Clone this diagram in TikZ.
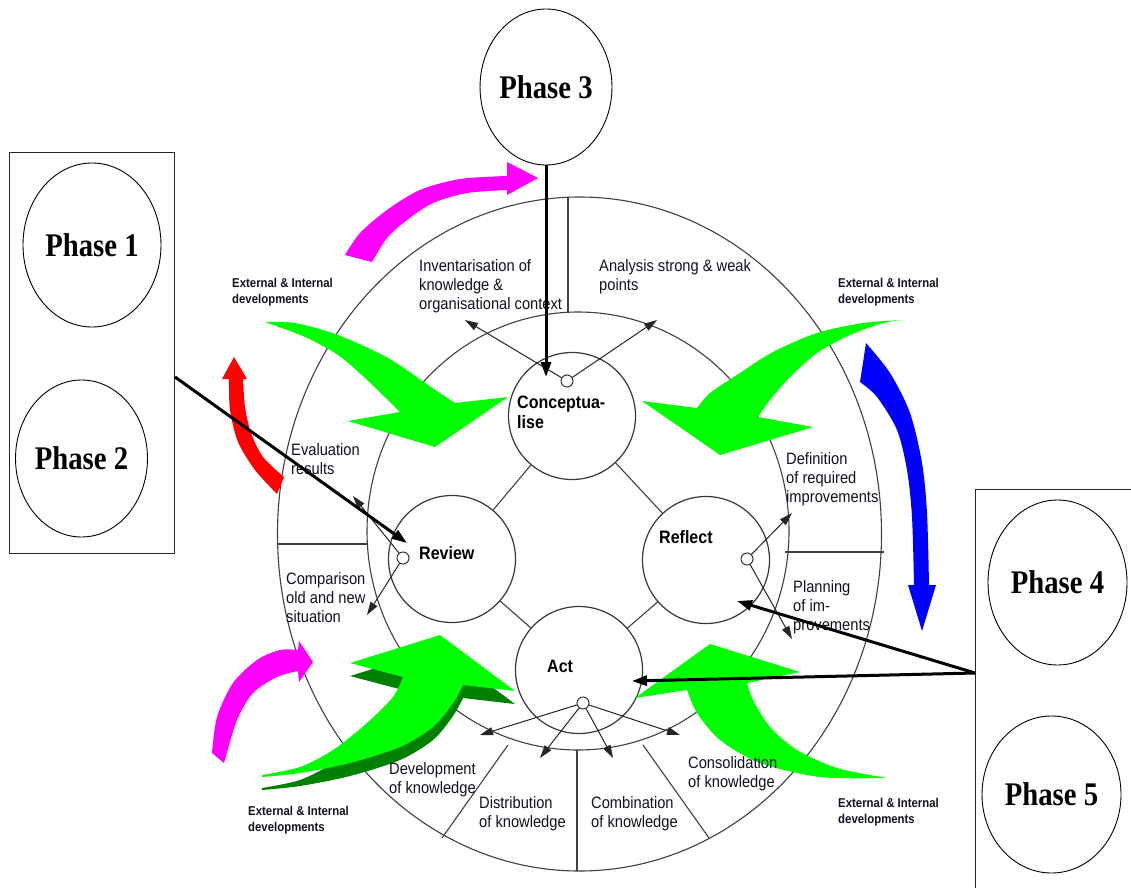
\documentclass[tikz,border=0pt]{standalone}
\usepackage{fontspec}
\setmainfont{Liberation Sans}
\newfontfamily\labfont[FakeStretch=0.89]{Liberation Sans}
\newfontfamily\phasefont[FakeStretch=0.87]{Liberation Serif}
\usetikzlibrary{arrows.meta,shapes.geometric}

\definecolor{swoosh}{RGB}{0,255,0}
\definecolor{swooshdark}{RGB}{0,128,0}
\definecolor{cycmagenta}{RGB}{255,0,255}
\definecolor{cycred}{RGB}{255,0,0}
\definecolor{cycblue}{RGB}{0,0,255}
\definecolor{inktext}{RGB}{18,18,30}

% multi-line labels are anchored at the baseline of their last line
\tikzset{
  ring/.style={draw=black!75, line width=1.1pt},
  stage/.style={circle, draw=black!78, line width=1.2pt, minimum size=127pt, inner sep=0pt},
  port/.style={circle, draw=black!80, fill=white, line width=1pt, minimum size=12pt, inner sep=0pt},
  flow/.style={draw=black!85, line width=1pt, -{Triangle[length=13pt,width=8pt]}},
  pointer/.style={draw=black, line width=3pt, -{Triangle[length=15pt,width=10pt]}},
  phase/.style={ellipse, draw=black, line width=0.9pt, inner sep=0pt,
    font=\phasefont\bfseries\fontsize{33}{36}\selectfont},
  framebox/.style={rectangle, draw=black!85, line width=0.9pt, inner sep=0pt, anchor=north west},
  lab/.style={anchor=base west, align=left, inner sep=0pt, text=inktext,
    font=\labfont\fontsize{16.5}{18.8}\selectfont},
  stagelab/.style={anchor=base west, align=left, inner sep=0pt, text=black,
    font=\labfont\bfseries\fontsize{18}{20}\selectfont},
  extlab/.style={anchor=base west, align=left, inner sep=0pt, text=inktext,
    font=\labfont\bfseries\fontsize{12.8}{16}\selectfont},
}

\begin{document}
\begin{tikzpicture}[x=1pt,y=-1pt]
\fill[white] (0,0) rectangle (1131,888);
\useasboundingbox (0,0) rectangle (1131,888);

% --- rings and sector dividers ---
\draw[ring] (579.5,534) ellipse [x radius=302, y radius=337];
\draw[ring] (578,531) ellipse [x radius=211, y radius=219];
\draw[ring] (568,197) -- (568,312);
\draw[ring] (277,544) -- (367,544);
\draw[ring] (785,552) -- (884,552);
\draw[ring] (577,750) -- (577,871);
\draw[ring] (508,745) -- (442,838);
\draw[ring] (643,745) -- (709,838);

% --- the four stages ---
\node[stage] (concept) at (572,416) {};
\node[stage] (review)  at (452,559) {};
\node[stage] (reflect) at (706,560) {};
\node[stage] (act)     at (579,670) {};
\draw[ring] (concept) -- (review);
\draw[ring] (review) -- (act);
\draw[ring] (act) -- (reflect);
\draw[ring] (reflect) -- (concept);

% --- external influences (green swooshes) ---
\fill[swoosh] (265,322) -- plot[smooth] coordinates {(265,322) (295,323) (338,335) (388,358) (428,385) (455,403)}
  -- (508,397) -- (435,447) -- (348,421)
  -- plot[smooth] coordinates {(400,412) (365,378) (338,355) (305,337) (265,322)} -- cycle;
\fill[swoosh] (903,320) -- plot[smooth] coordinates {(903,320) (863,323) (817,333) (773,352) (737,375) (710,393) (697,408)}
  -- (642,401) -- (720,455) -- (813,427)
  -- plot[smooth] coordinates {(758,417) (770,400) (790,377) (817,353) (850,335) (883,323) (903,320)} -- cycle;
\fill[swooshdark, yshift=-13pt] (262,775) -- plot[smooth] coordinates {(262,775) (300,767) (333,750) (367,723) (393,697) (403,677)}
  -- (350,663) -- (440,635) -- (515,691)
  -- plot[smooth] coordinates {(463,685) (453,703) (433,727) (400,747) (350,763) (300,773) (262,777)} -- cycle;
\fill[swoosh] (262,775) -- plot[smooth] coordinates {(262,775) (300,767) (333,750) (367,723) (393,697) (403,677)}
  -- (350,663) -- (440,635) -- (515,691)
  -- plot[smooth] coordinates {(463,685) (453,703) (433,727) (400,747) (350,763) (300,773) (262,777)} -- cycle;
\fill[swoosh] (887,778) -- plot[smooth] coordinates {(887,778) (820,777) (760,763) (720,740) (697,713) (687,690)}
  -- (635,698) -- (710,644) -- (800,672)
  -- plot[smooth] coordinates {(747,683) (753,700) (770,727) (797,750) (837,768) (887,778)} -- cycle;

% --- cycle direction arrows ---
\fill[cycmagenta] (345,255) -- plot[smooth] coordinates {(345,255) (360,233) (387,210) (420,190) (460,179) (507,176)}
  -- (507,162) -- (538,178) -- (507,195)
  -- plot[smooth] coordinates {(507,190) (467,193) (433,203) (407,220) (387,238) (372,262)} -- cycle;
\fill[cycmagenta] (212,753) -- plot[smooth] coordinates {(212,753) (217,717) (233,683) (257,660) (280,650) (298,650)}
  -- (299,641) -- (313,662) -- (299,682)
  -- plot[smooth] coordinates {(298,671) (277,677) (253,693) (237,720) (224,763)} -- cycle;
\fill[cycred] (234,357) -- (247,379)
  -- plot[smooth] coordinates {(243,379) (245,407) (251,433) (263,457) (284,477)}
  -- (277,494)
  -- plot[smooth] coordinates {(277,494) (255,470) (238,442) (230,410) (229,379)}
  -- (222,379) -- cycle;
\fill[cycblue] (922,631) -- (936,585)
  -- plot[smooth] coordinates {(929,585) (927,513) (922,463) (910,413) (890,373) (866,343)}
  -- (860,382)
  -- plot[smooth] coordinates {(860,382) (877,397) (897,430) (907,470) (912,517) (914,585)}
  -- (908,585) -- cycle;

% --- sector texts ---
\node[lab] (tInv) at (419,309) {Inventarisation of\\knowledge \&\\organisational context};
\node[lab] (tAna) at (599,290) {Analysis strong \& weak\\points};
\node[lab] (tEva) at (291,474) {Evaluation\\results};
\node[lab] (tCmp) at (286,622) {Comparison\\old and new\\situation};
\node[lab] (tDef) at (786,502) {Definition\\of required\\improvements};
\node[lab] (tPla) at (793,630) {Planning\\of im-\\provements};
\node[lab] (tDev) at (389,793) {Development\\of knowledge};
\node[lab] (tDis) at (479,827) {Distribution\\of knowledge};
\node[lab] (tCom) at (591,827) {Combination\\of knowledge};
\node[lab] (tCon) at (688,787) {Consolidation\\of knowledge};

\node[stagelab] (sConcept) at (517,428) {Conceptua-\\lise};
\node[stagelab] (sReview)  at (419,559) {Review};
\node[stagelab] (sReflect) at (659,543) {Reflect};
\node[stagelab] (sAct)     at (547,672) {Act};

\node[extlab] (eTL) at (232,303) {External \& Internal\\developments};
\node[extlab] (eTR) at (838,303) {External \& Internal\\developments};
\node[extlab] (eBL) at (248,831) {External \& Internal\\developments};
\node[extlab] (eBR) at (838,823) {External \& Internal\\developments};

% --- ports and their outputs ---
\node[port] (cport) at (567,381) {};
\node[port] (rport) at (403,558) {};
\node[port] (fport) at (747,559) {};
\node[port] (aport) at (583,703) {};

\coordinate (cOutL) at (465,320);
\coordinate (cOutR) at (657,320);
\coordinate (rOutU) at (353,496);
\coordinate (rOutD) at (367,615);
\coordinate (fOutU) at (792,513);
\coordinate (fOutD) at (792,639);
\coordinate (aOut1) at (480,735);
\coordinate (aOut2) at (540,758);
\coordinate (aOut3) at (613,758);
\coordinate (aOut4) at (680,735);
\draw[flow] (cport) -- (cOutL);
\draw[flow] (cport) -- (cOutR);
\draw[flow] (rport) -- (rOutU);
\draw[flow] (rport) -- (rOutD);
\draw[flow] (fport) -- (fOutU);
\draw[flow] (fport) -- (fOutD);
\draw[flow] (aport) -- (aOut1);
\draw[flow] (aport) -- (aOut2);
\draw[flow] (aport) -- (aOut3);
\draw[flow] (aport) -- (aOut4);

% --- phases ---
\node[framebox, minimum width=165pt, minimum height=401pt] (box12) at (9,152) {};
\draw[draw=black!85, line width=0.9pt] (1131,489) -- (975,489) -- (975,888);
\node[phase, minimum width=138pt, minimum height=164pt] (phase1) at (92,245) {Phase 1};
\node[phase, minimum width=131pt, minimum height=157pt] (phase2) at (81.5,458.5) {Phase 2};
\node[phase, minimum width=126pt, minimum height=156pt] (phase3) at (546,87) {Phase 3};
\node[phase, minimum width=139pt, minimum height=165pt] (phase4) at (1057.5,582.5) {Phase 4};
\node[phase, minimum width=139pt, minimum height=157pt] (phase5) at (1051.5,794.5) {Phase 5};

\coordinate (from12) at (175,377);
\coordinate (from45) at (975,673);
\coordinate (hitReview)  at (407,543);
\coordinate (hitConcept) at (546,377);
\coordinate (hitReflect) at (737,601);
\coordinate (hitAct)     at (632,681);
\draw[pointer] (from12) -- (hitReview);
\draw[pointer] (phase3.south) -- (hitConcept);
\draw[pointer] (from45) -- (hitReflect);
\draw[pointer] (from45) -- (hitAct);
\end{tikzpicture}
\end{document}
